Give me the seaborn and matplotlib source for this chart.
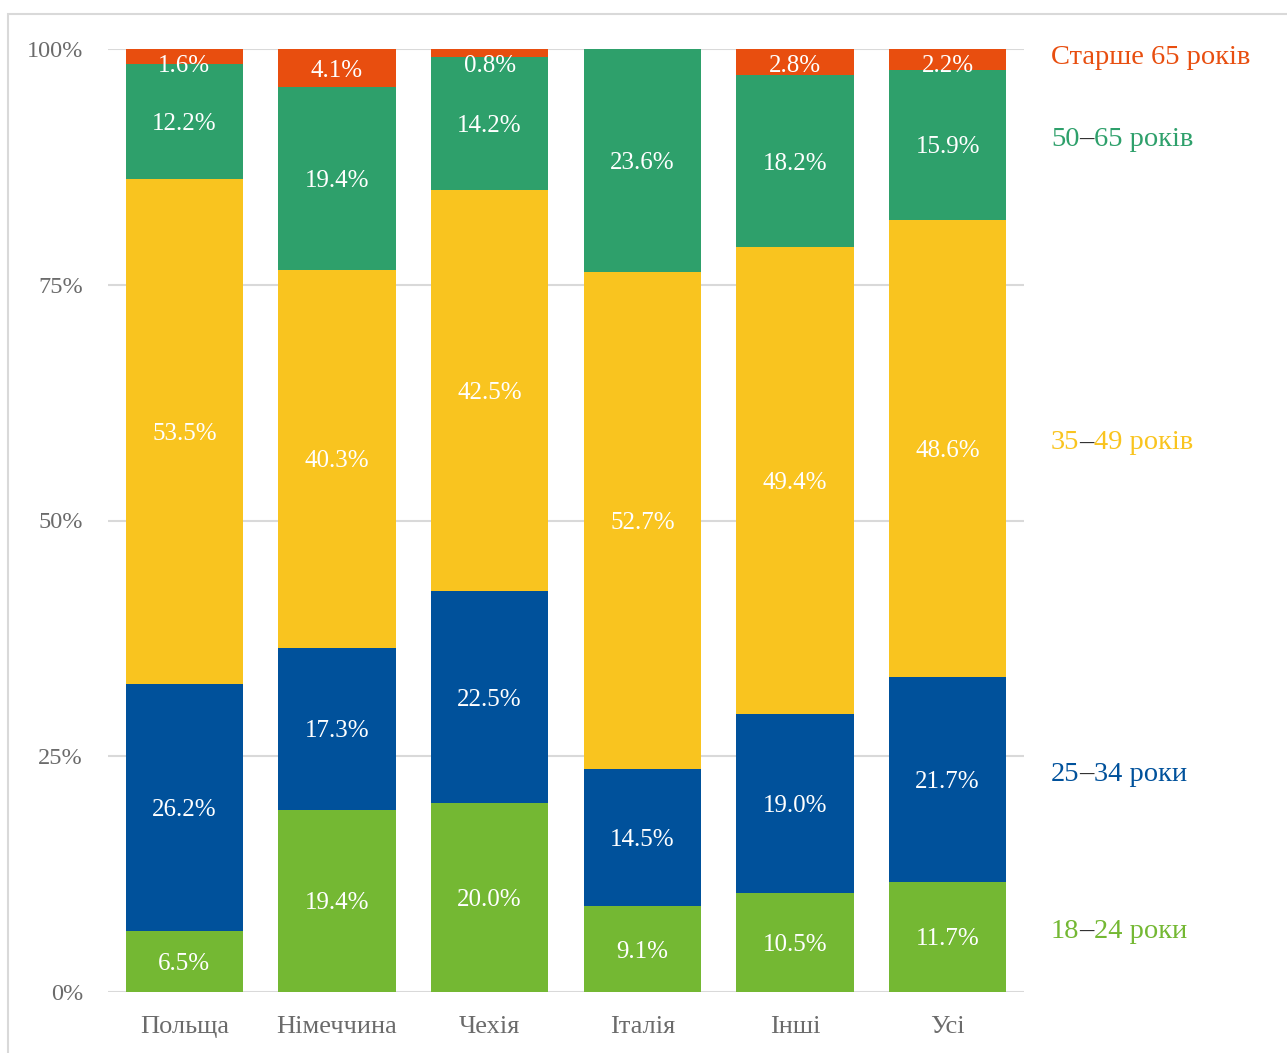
import numpy as np
import pandas as pd
import matplotlib
matplotlib.use("Agg")
import matplotlib.pyplot as plt
import matplotlib.patches as mpatches
import matplotlib.transforms as mtransforms
import seaborn as sns

# ---------------- data ----------------
countries = ["Польща", "Німеччина", "Чехія", "Італія", "Інші", "Усі"]
groups = ["18–24 роки", "25–34 роки", "35–49 років", "50–65 років", "Старше 65 років"]
v_18_24 = [6.5, 19.4, 20.0, 9.1, 10.5, 11.7]
v_25_34 = [26.2, 17.3, 22.5, 14.5, 19.0, 21.7]
v_35_49 = [53.5, 40.3, 42.5, 52.7, 49.4, 48.6]
v_50_65 = [12.2, 19.4, 14.2, 23.6, 18.2, 15.9]
v_65p = [1.6, 4.1, 0.8, 0.0, 2.8, 2.2]
series = [v_18_24, v_25_34, v_35_49, v_50_65, v_65p]
colors = ["#74B833", "#00519B", "#F9C41F", "#2EA06B", "#E84E0F"]
yticks = [0, 25, 50, 75, 100]
ytick_labels = ["0%", "25%", "50%", "75%", "100%"]

# ---------------- style ----------------
sns.set_theme(style="white")
plt.rcParams["font.family"] = ["Liberation Serif", "DejaVu Serif"]

W, H = 1287, 1053
fig = plt.figure(figsize=(W / 100, H / 100), dpi=100)
ax = fig.add_axes([108 / W, 1 - 992 / H, (1024 - 108) / W, (992 - 49) / H])

vals = np.array(series, dtype=float)          # shape (groups, countries)
shares = vals / vals.sum(axis=0) * 100        # 100% stacked
cum = np.cumsum(shares, axis=0)

# draw from top (largest cumulative) to bottom so lower series cover higher
for k in range(len(groups) - 1, -1, -1):
    df = pd.DataFrame({"country": countries, "top": cum[k]})
    sns.barplot(data=df, x="country", y="top", color=colors[k], saturation=1,
                width=0.77, errorbar=None, linewidth=0, ax=ax, zorder=3)

# value labels (kept inside the plot area near the top)
for k in range(len(groups)):
    for i in range(len(countries)):
        if vals[k, i] <= 0:
            continue
        yc = min(cum[k, i] - shares[k, i] / 2, 98.5)
        ax.text(i, yc, f"{vals[k, i]:.1f}%", ha="center", va="center_baseline",
                color="white", fontsize=18, zorder=5)

ax.set_xlim(-0.5, len(countries) - 0.5)
ax.set_ylim(0, 100)
ax.set_yticks(yticks)
ax.set_yticklabels(ytick_labels)
ax.set_xlabel("")
ax.set_ylabel("")
ax.grid(axis="y", color="#D9D9D9", linewidth=1.5, zorder=0)
ax.set_axisbelow(True)
for s in ax.spines.values():
    s.set_visible(False)
ax.tick_params(axis="both", length=0, labelcolor="#6B6B6B")
ax.tick_params(axis="y", pad=18, labelsize=17.5)
ax.tick_params(axis="x", pad=17, labelsize=19)

# right-side labels with dark dash
fig.canvas.draw()
renderer = fig.canvas.get_renderer()
trans = mtransforms.blended_transform_factory(fig.transFigure, ax.transData)
last = len(countries) - 1
x0 = 1051 / W
for k, name in enumerate(groups):
    yc = min(cum[k, last] - shares[k, last] / 2 + 0.9, 99.4)
    if "–" in name:
        a, b = name.split("–", 1)
        parts = [(a, colors[k]), ("–", "#262626"), (b, colors[k])]
    else:
        parts = [(name, colors[k])]
    x = x0
    for txt, col in parts:
        t = fig.text(x, yc, txt, transform=trans, color=col, fontsize=20.5,
                     ha="left", va="center_baseline")
        bb = t.get_window_extent(renderer)
        x += bb.width / W

# figure border
fig.patches.append(mpatches.Rectangle((8 / W, -0.1), 1.5, 1 - 14 / H + 0.1,
                                      transform=fig.transFigure, fill=False,
                                      edgecolor="#D9D9D9", linewidth=1.5,
                                      clip_on=False))

fig.savefig("out.png", dpi=100)
